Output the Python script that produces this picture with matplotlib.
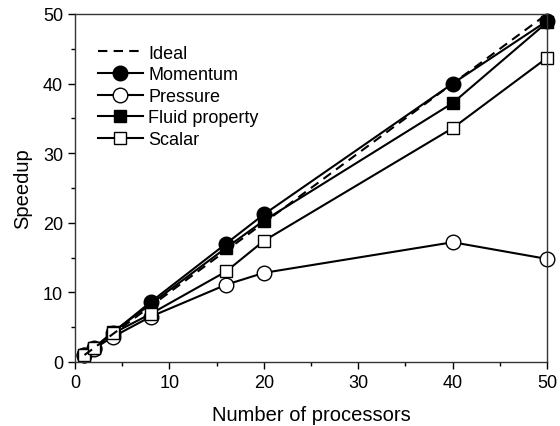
import matplotlib.pyplot as plt
from matplotlib.ticker import MultipleLocator

plt.rcParams['font.family'] = ['Liberation Sans', 'DejaVu Sans']

# processadores
procs = [1, 2, 4, 8, 16, 20, 40, 50]
ideal = [1, 50]
ideal_x = [1, 50]

momentum = [1.0, 2.0, 4.2, 8.6, 17.0, 21.2, 40.0, 49.0]
pressure = [1.0, 1.9, 3.6, 6.5, 11.1, 12.8, 17.2, 14.8]
fluid = [1.0, 2.0, 4.3, 8.3, 16.4, 20.3, 37.2, 48.8]
scalar = [1.0, 2.0, 4.1, 6.9, 13.0, 17.4, 33.6, 43.7]

fig = plt.figure(figsize=(5.6, 4.27), dpi=100)
ax = fig.add_axes([0.134, 0.15, 0.843, 0.815])

ax.plot(ideal_x, ideal, 'k--', lw=1.5, dashes=(4.5, 3), label='Ideal', zorder=5)
ax.plot(procs, momentum, '-o', color='k', mfc='k', mec='k', ms=10.5, lw=1.5,
        label='Momentum', clip_on=False)
ax.plot(procs, pressure, '-o', color='k', mfc='white', mec='k', ms=10.5, lw=1.5,
        label='Pressure', clip_on=False)
ax.plot(procs, fluid, '-s', color='k', mfc='k', mec='k', ms=9, lw=1.5,
        label='Fluid property', clip_on=False)
ax.plot(procs, scalar, '-s', color='k', mfc='white', mec='k', ms=9, lw=1.5,
        label='Scalar', clip_on=False)

ax.set_xlim(0, 50)
ax.set_ylim(0, 50)
ax.xaxis.set_major_locator(MultipleLocator(10))
ax.xaxis.set_minor_locator(MultipleLocator(5))
ax.yaxis.set_major_locator(MultipleLocator(10))
ax.yaxis.set_minor_locator(MultipleLocator(5))
ax.tick_params(which='major', direction='out', length=5, width=1, labelsize=13)
ax.tick_params(which='minor', direction='out', length=3, width=1)
for s in ax.spines.values():
    s.set_linewidth(1)
    s.set_color('#333333')

ax.set_xlabel('Number of processors', fontsize=14.5, labelpad=10)
ax.set_ylabel('Speedup', fontsize=14.5, labelpad=8)

ax.legend(loc='upper left', bbox_to_anchor=(0.0135, 0.958), frameon=False,
          fontsize=13, handlelength=2.5, handletextpad=0.3, labelspacing=0.25)

fig.savefig('out.png', dpi=100)
